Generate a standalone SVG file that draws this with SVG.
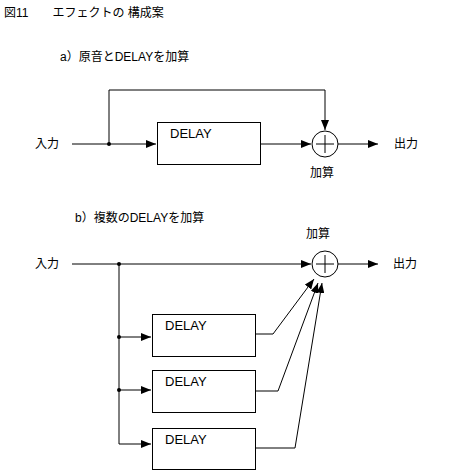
<svg xmlns="http://www.w3.org/2000/svg" width="461" height="471" viewBox="0 0 461 471">
<style>
text{font-family:"Liberation Sans","Noto Sans CJK JP",sans-serif;font-size:12px;fill:#000}
text.d{font-size:13px}
.ln{fill:none;stroke:#000;stroke-width:1}
.box{fill:#fff;stroke:#000;stroke-width:1}
</style>
<defs>
<marker id="ah" viewBox="0 0 10 8" refX="10" refY="4" markerWidth="10" markerHeight="8" markerUnits="userSpaceOnUse" orient="auto">
<path d="M0,0 L10,4 L0,8 Z" fill="#000"/>
</marker>
</defs>
<rect width="461" height="471" fill="#fff"/>
<text x="4" y="17">図11　　エフェクトの 構成案</text>
<text x="60" y="61">a）原音とDELAYを加算</text>
<text x="75" y="222">b）複数のDELAYを加算</text>

<g id="connectors">
<path class="ln" d="M72,144 H156" marker-end="url(#ah)"/>
<path class="ln" d="M109,144 V90 H325 V130" marker-end="url(#ah)"/>
<path class="ln" d="M261,144 H311" marker-end="url(#ah)"/>
<path class="ln" d="M338,144 H378" marker-end="url(#ah)"/>
<circle cx="109" cy="144" r="2" fill="#000"/>

<path class="ln" d="M72,264 H311" marker-end="url(#ah)"/>
<path class="ln" d="M338,264 H378" marker-end="url(#ah)"/>
<path class="ln" d="M119,264 V444 H151" marker-end="url(#ah)"/>
<path class="ln" d="M119,337 H151" marker-end="url(#ah)"/>
<path class="ln" d="M119,390 H151" marker-end="url(#ah)"/>
<circle cx="119" cy="264" r="2" fill="#000"/>
<circle cx="119" cy="337" r="2" fill="#000"/>
<circle cx="119" cy="390" r="2" fill="#000"/>
<path class="ln" d="M256,334 H273 L314,279" marker-end="url(#ah)"/>
<path class="ln" d="M256,391 H278 L318,283" marker-end="url(#ah)"/>
<path class="ln" d="M256,448 H295 L322,283" marker-end="url(#ah)"/>
</g>

<g id="in-a"><text x="35" y="148">入力</text></g>
<g id="delay-a"><rect class="box" x="157.5" y="122.5" width="103" height="42"/><text class="d" x="170" y="138">DELAY</text></g>
<g id="sum-a"><circle class="box" cx="325" cy="144" r="13"/><path class="ln" d="M316,144 H334 M325,135 V153"/><text x="310" y="177">加算</text></g>
<g id="out-a"><text x="394" y="148">出力</text></g>

<g id="in-b"><text x="35" y="268">入力</text></g>
<g id="sum-b"><circle class="box" cx="325" cy="264" r="13"/><path class="ln" d="M316,264 H334 M325,255 V273"/><text x="306" y="238">加算</text></g>
<g id="out-b"><text x="393" y="268">出力</text></g>
<g id="delay-b1"><rect class="box" x="152.5" y="314.5" width="103" height="42"/><text class="d" x="165" y="330">DELAY</text></g>
<g id="delay-b2"><rect class="box" x="152.5" y="370.5" width="103" height="42"/><text class="d" x="165" y="386">DELAY</text></g>
<g id="delay-b3"><rect class="box" x="152.5" y="428.5" width="103" height="41"/><text class="d" x="165" y="444">DELAY</text></g>
</svg>
